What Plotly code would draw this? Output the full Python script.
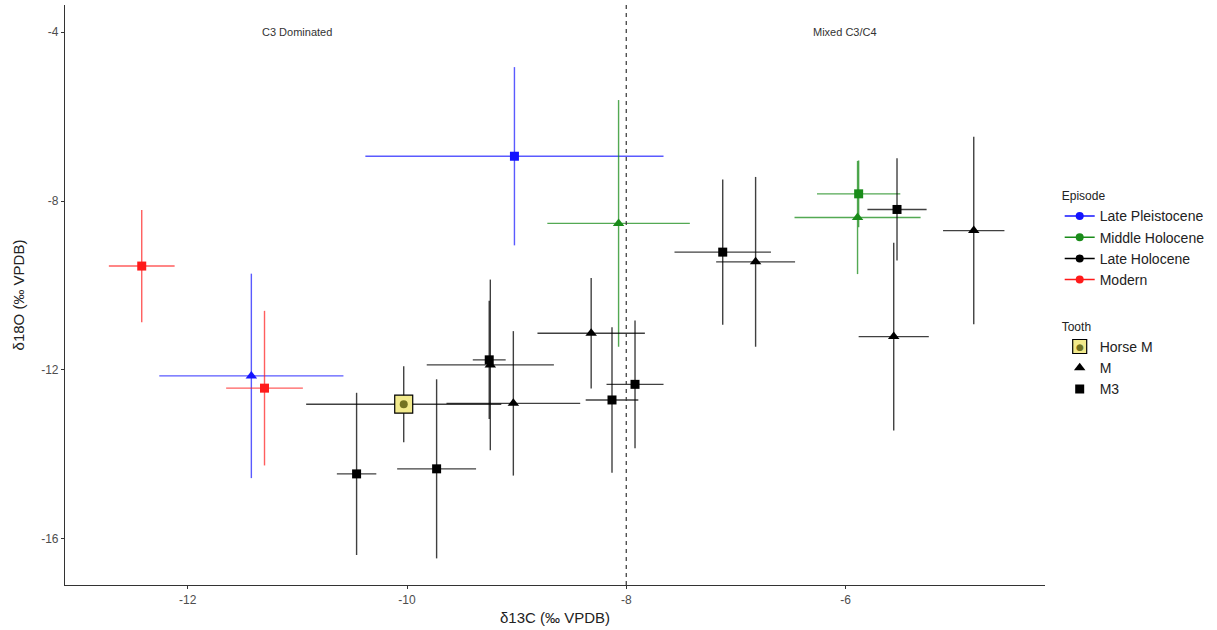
import plotly.graph_objects as go

# ---- data ----
episodes = ["Late Pleistocene", "Middle Holocene", "Late Holocene", "Modern"]
episode_colors = ["#1414ff", "#1a8c1a", "#000000", "#ff1a1a"]
bar_colors = ["rgba(20,20,255,0.7)", "rgba(26,140,26,0.75)", "rgba(0,0,0,0.75)", "rgba(255,26,26,0.7)"]
teeth = ["Horse M", "M", "M3"]

pt_episode = ["Late Pleistocene", "Late Pleistocene",
              "Middle Holocene", "Middle Holocene", "Middle Holocene",
              "Modern", "Modern",
              "Late Holocene",
              "Late Holocene", "Late Holocene", "Late Holocene", "Late Holocene",
              "Late Holocene", "Late Holocene", "Late Holocene",
              "Late Holocene", "Late Holocene", "Late Holocene", "Late Holocene",
              "Late Holocene", "Late Holocene"]
pt_tooth = ["M3", "M",
            "M", "M3", "M",
            "M3", "M3",
            "Horse M",
            "M3", "M3", "M3", "M3", "M3", "M3", "M3",
            "M", "M", "M", "M", "M", "M"]
d13c = [-9.02, -11.42,
        -8.07, -5.88, -5.89,
        -12.42, -11.30,
        -10.03,
        -10.46, -9.73, -9.25, -8.13, -7.92, -7.12, -5.53,
        -9.03, -9.24, -8.32, -6.82, -5.56, -4.83]
d18o = [-6.94, -12.14,
        -8.53, -7.83, -8.39,
        -9.54, -12.43,
        -12.81,
        -14.46, -14.34, -11.76, -12.71, -12.34, -9.21, -8.20,
        -12.79, -11.88, -11.13, -9.44, -11.21, -8.70]
d13c_sd = [1.36, 0.84,
           0.65, 0.38, 0.575,
           0.30, 0.35,
           0.89,
           0.18, 0.36, 0.15, 0.24, 0.26, 0.44, 0.27,
           0.61, 0.58, 0.49, 0.36, 0.32, 0.28]
d18o_sd = [2.11, 2.42,
           2.92, 0.79, 1.34,
           1.33, 1.83,
           0.90,
           1.92, 2.12, 1.40, 1.72, 1.51, 1.72, 1.21,
           1.71, 2.02, 1.31, 2.01, 2.22, 2.22]

x_ticks = [-12, -10, -8, -6]
y_ticks = [-16, -12, -8, -4]
region_labels = ["C3 Dominated", "Mixed C3/C4"]
region_x = [-11, -6]
region_y = [-4, -4]
boundary_x = -8

FONT = "Liberation Sans, Arial, sans-serif"
fig = go.Figure()

# data traces
for ep, col, bcol in zip(episodes, episode_colors, bar_colors):
    for th in teeth:
        idx = [i for i in range(len(d13c)) if pt_episode[i] == ep and pt_tooth[i] == th]
        if not idx:
            continue
        xs = [d13c[i] for i in idx]
        ys = [d18o[i] for i in idx]
        ex = [d13c_sd[i] for i in idx]
        ey = [d18o_sd[i] for i in idx]
        if th == "Horse M":
            fig.add_trace(go.Scatter(
                x=xs, y=ys, mode="markers", showlegend=False,
                error_x=dict(type="data", array=ex, width=0, thickness=1.4, color=bcol),
                error_y=dict(type="data", array=ey, width=0, thickness=1.4, color=bcol),
                marker=dict(symbol="square", size=18, color="#f2ea8c",
                            line=dict(color="#000000", width=1.2))))
            fig.add_trace(go.Scatter(
                x=xs, y=ys, mode="markers", showlegend=False,
                marker=dict(symbol="circle", size=8, color="#737322")))
        else:
            sym = "triangle-up" if th == "M" else "square"
            size = 10 if th == "M" else 9
            fig.add_trace(go.Scatter(
                x=xs, y=ys, mode="markers", showlegend=False,
                error_x=dict(type="data", array=ex, width=0, thickness=1.4, color=bcol),
                error_y=dict(type="data", array=ey, width=0, thickness=1.4, color=bcol),
                marker=dict(symbol=sym, size=size, color=col, line=dict(width=0))))

# legend: Episode
for ep, col in zip(episodes, episode_colors):
    fig.add_trace(go.Scatter(
        x=[None], y=[None], mode="lines+markers", name=ep, legend="legend",
        line=dict(color=col, width=1.5),
        marker=dict(symbol="circle", size=8, color=col)))

# legend: Tooth
fig.add_trace(go.Scatter(x=[None], y=[None], mode="markers", name="Horse M", legend="legend2",
                         marker=dict(symbol="square", size=14, color="#f2ea8c",
                                     line=dict(color="#000000", width=1.2))))
fig.add_trace(go.Scatter(x=[None], y=[None], mode="markers", name="M", legend="legend2",
                         marker=dict(symbol="triangle-up", size=10, color="#000000")))
fig.add_trace(go.Scatter(x=[None], y=[None], mode="markers", name="M3", legend="legend2",
                         marker=dict(symbol="square", size=9, color="#000000")))

# dashed boundary
fig.add_shape(type="line", xref="x", yref="paper", x0=boundary_x, x1=boundary_x, y0=0, y1=1,
              line=dict(color="#333333", width=1.2, dash="4px,4px"))

for lab, xv, yv in zip(region_labels, region_x, region_y):
    fig.add_annotation(x=xv, y=yv, text=lab, showarrow=False,
                       font=dict(family=FONT, size=11, color="#333333"))

LEG_X = 1.015
# dot inside the Horse M legend key
dot_cx, dot_cy = 1.0357, 0.410
fig.add_annotation(x=dot_cx, y=dot_cy, xref="paper", yref="paper", text="●",
                   showarrow=False, xanchor="center", yanchor="middle",
                   font=dict(family="DejaVu Sans", size=9, color="#737322"))

fig.update_layout(
    width=1217, height=630,
    margin=dict(l=65, r=172, t=5, b=45),
    paper_bgcolor="white", plot_bgcolor="white",
    font=dict(family=FONT, color="#000000"),
    legend=dict(title=dict(text="Episode", font=dict(size=12, color="#222")),
                font=dict(size=14, color="#222"), x=LEG_X, xanchor="left",
                y=0.69, yanchor="top", itemwidth=30, tracegroupgap=0,
                bgcolor="rgba(0,0,0,0)"),
    legend2=dict(title=dict(text="Tooth", font=dict(size=12, color="#222")),
                 font=dict(size=14, color="#222"), x=LEG_X, xanchor="left",
                 y=0.465, yanchor="top", itemwidth=30, tracegroupgap=0,
                 bgcolor="rgba(0,0,0,0)"),
    xaxis=dict(range=[-13.12, -4.18], tickvals=x_ticks, ticktext=[str(t) for t in x_ticks],
               showgrid=False, zeroline=False, showline=True, linecolor="#333333", linewidth=1.2,
               ticks="outside", ticklen=3, tickcolor="#333333",
               tickfont=dict(size=12, color="#4d4d4d", family=FONT),
               title=dict(text="δ13C (‰ VPDB)", font=dict(size=15, color="#222", family=FONT), standoff=6)),
    yaxis=dict(range=[-17.09, -3.36], tickvals=y_ticks, ticktext=[str(t) for t in y_ticks],
               showgrid=False, zeroline=False, showline=True, linecolor="#333333", linewidth=1.2,
               ticks="outside", ticklen=3, tickcolor="#333333",
               tickfont=dict(size=12, color="#4d4d4d", family=FONT),
               title=dict(text="δ18O (‰ VPDB)", font=dict(size=15, color="#222", family=FONT), standoff=12)),
)

fig.write_html("out.html", config={"displayModeBar": False},
               post_script="document.body.style.margin='0px';")
